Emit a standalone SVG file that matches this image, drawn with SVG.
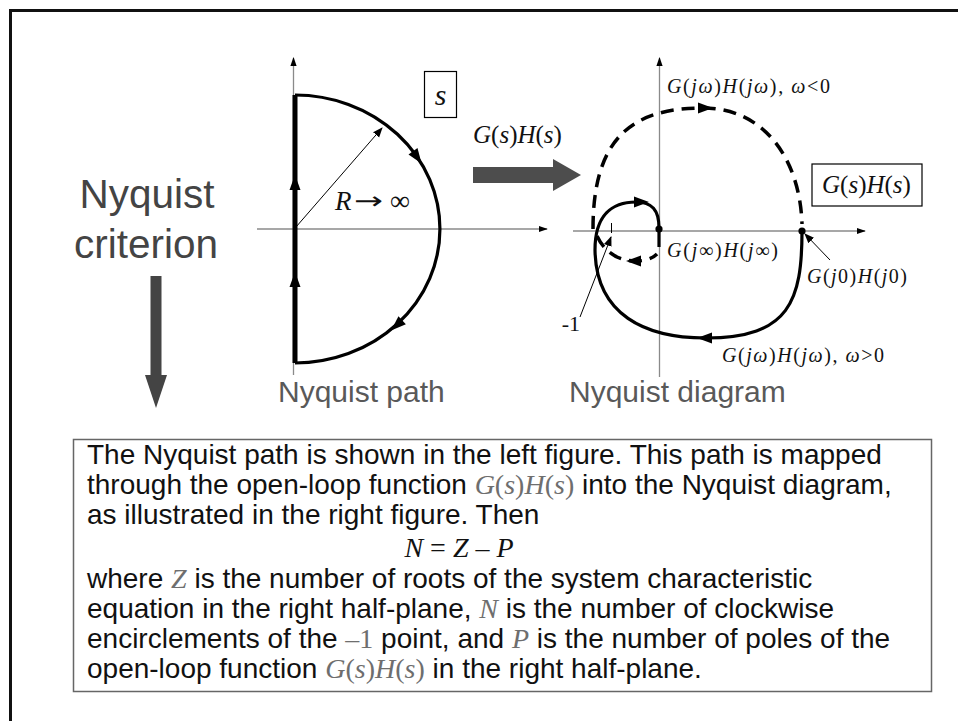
<svg xmlns="http://www.w3.org/2000/svg" width="958" height="721" viewBox="0 0 958 721">
<style>
.sans{font-family:"Liberation Sans",Arial,sans-serif}
.ser{font-family:"Liberation Serif","Times New Roman",serif}
.i{font-style:italic}
.ax{stroke:#8a8a8a;stroke-width:1.3;fill:none}
.thk{stroke:#000;stroke-width:3.2;fill:none}
.dsh{stroke:#000;stroke-width:3.5;fill:none;stroke-dasharray:13 8}
.thin{stroke:#000;stroke-width:1;fill:none}
.ah{fill:#000}
.m{fill:#6e6e6e}
.body{font-size:28px;fill:#111}
.lbl{font-size:20px;fill:#111}
</style>
<defs>
<marker id="axa" viewBox="0 0 10 10" refX="9" refY="5" markerWidth="9" markerHeight="9" markerUnits="userSpaceOnUse" orient="auto"><path d="M0,1.5 L10,5 L0,8.5 Z" fill="#000"/></marker>
<marker id="pa" viewBox="0 0 10 10" refX="9" refY="5" markerWidth="10" markerHeight="10" markerUnits="userSpaceOnUse" orient="auto"><path d="M0,1 L10,5 L0,9 Z" fill="#000"/></marker>
<polygon id="hd" points="8,0 -7,-5.5 -7,5.5"/>
</defs>
<rect x="10.5" y="10.5" width="970" height="730" fill="#fff" stroke="#111" stroke-width="3"/>

<g id="criterion">
<text class="sans" x="147" y="208" font-size="40.5" fill="#444" text-anchor="middle">Nyquist</text>
<text class="sans" x="146" y="258" font-size="40.5" fill="#444" text-anchor="middle">criterion</text>
<polygon points="150.5,276 161.5,276 161.5,375 167,375 156,408 145,375 150.5,375" fill="#444"/>
</g>

<g id="nyquist-path">
<line class="ax" x1="293.5" y1="375" x2="293.5" y2="58" marker-end="url(#axa)"/>
<line class="ax" x1="257" y1="229" x2="547" y2="229" marker-end="url(#axa)"/>
<line x1="295" y1="95" x2="295" y2="363" stroke="#000" stroke-width="5"/>
<path class="thk" d="M295,95 A145,134 0 0 1 295,363"/>
<use href="#hd" class="ah" transform="translate(295,183) rotate(-90)"/>
<use href="#hd" class="ah" transform="translate(295,280) rotate(-90)"/>
<use href="#hd" class="ah" transform="translate(417,157) rotate(55)"/>
<use href="#hd" class="ah" transform="translate(397,325) rotate(137.6)"/>
<line class="thin" x1="296" y1="227" x2="382" y2="128" marker-end="url(#pa)"/>
<text class="ser i" x="335" y="210" font-size="27" fill="#111">R</text>
<text x="354" y="209" font-size="24" fill="#111" font-family="'DejaVu Sans',sans-serif" textLength="29" lengthAdjust="spacingAndGlyphs">→</text>
<text class="ser" x="390" y="210" font-size="28" fill="#111">∞</text>
<rect x="424.5" y="71.5" width="32" height="46" fill="none" stroke="#000" stroke-width="1.2"/>
<text class="ser i" x="440.5" y="105" font-size="30" fill="#111" text-anchor="middle">s</text>
<text class="sans" x="278" y="402" font-size="30" fill="#595959">Nyquist path</text>
</g>

<g id="mapping">
<text class="ser" x="473" y="143" font-size="25" fill="#111"><tspan class="i">G</tspan>(<tspan class="i">s</tspan>)<tspan class="i">H</tspan>(<tspan class="i">s</tspan>)</text>
<polygon points="473,167 553,167 553,159 581,175 553,191 553,183 473,183" fill="#4d4d4d"/>
</g>

<g id="nyquist-diagram">
<line class="ax" x1="659.5" y1="377" x2="659.5" y2="58" marker-end="url(#axa)"/>
<line class="ax" x1="573" y1="231" x2="865" y2="231" marker-end="url(#axa)"/>
<path class="dsh" d="M593,229 C593,140 630,108 703,108 C765,108 800,160 802,224"/>
<path class="thk" d="M802,231 C802,300 790,338 706,338 C645,338 596,315 595,250 C595,215 612,202 636,202 C652,202 659,210 659,228 L659,247"/>
<path class="dsh" d="M597,236 C605,253 619,261 636,261 C646,261 653,258 657,254" stroke-dasharray="11 7"/>
<use href="#hd" class="ah" transform="translate(705,108)"/>
<use href="#hd" class="ah" transform="translate(705,338) rotate(180)"/>
<use href="#hd" class="ah" transform="translate(641,202)"/>
<use href="#hd" class="ah" transform="translate(634,261) rotate(180)"/>
<circle cx="659" cy="229" r="3.6" fill="#000"/>
<circle cx="802" cy="231" r="3.6" fill="#000"/>
<line class="thin" x1="611.5" y1="223" x2="611.5" y2="233"/>
<line class="thin" x1="580" y1="317" x2="611" y2="237" marker-end="url(#pa)"/>
<text class="ser" x="580" y="331" font-size="22" fill="#111" text-anchor="end">-1</text>
<line class="thin" x1="830" y1="260" x2="805" y2="234" marker-end="url(#pa)"/>
<text class="ser lbl" x="667" y="93" textLength="163" lengthAdjust="spacing"><tspan class="i">G</tspan>(<tspan class="i">jω</tspan>)<tspan class="i">H</tspan>(<tspan class="i">jω</tspan>), <tspan class="i">ω</tspan>&lt;0</text>
<text class="ser lbl" x="667" y="257" textLength="111" lengthAdjust="spacing"><tspan class="i">G</tspan>(<tspan class="i">j</tspan>∞)<tspan class="i">H</tspan>(<tspan class="i">j</tspan>∞)</text>
<text class="ser lbl" x="807" y="283" textLength="100" lengthAdjust="spacing"><tspan class="i">G</tspan>(<tspan class="i">j</tspan>0)<tspan class="i">H</tspan>(<tspan class="i">j</tspan>0)</text>
<text class="ser lbl" x="722" y="362" textLength="162" lengthAdjust="spacing"><tspan class="i">G</tspan>(<tspan class="i">jω</tspan>)<tspan class="i">H</tspan>(<tspan class="i">jω</tspan>), <tspan class="i">ω</tspan>&gt;0</text>
<rect x="812" y="164" width="110" height="42" fill="none" stroke="#000" stroke-width="1.2"/>
<text class="ser" x="822" y="193" font-size="25" fill="#111"><tspan class="i">G</tspan>(<tspan class="i">s</tspan>)<tspan class="i">H</tspan>(<tspan class="i">s</tspan>)</text>
<text class="sans" x="569" y="402" font-size="30" fill="#595959">Nyquist diagram</text>
</g>

<g id="explanation">
<rect x="73.5" y="439.5" width="858" height="252" fill="#fff" stroke="#666" stroke-width="1.5"/>
<text class="sans body" x="87" y="464">The Nyquist path is shown in the left figure. This path is mapped</text>
<text class="sans body" x="87" y="494">through the open-loop function <tspan class="ser m"><tspan class="i">G</tspan>(<tspan class="i">s</tspan>)<tspan class="i">H</tspan>(<tspan class="i">s</tspan>)</tspan> into the Nyquist diagram,</text>
<text class="sans body" x="87" y="524">as illustrated in the right figure. Then</text>
<text class="ser body m" x="459" y="557" text-anchor="middle"><tspan class="i">N</tspan> = <tspan class="i">Z</tspan> – <tspan class="i">P</tspan></text>
<text class="sans body" x="87" y="588">where <tspan class="ser m i">Z</tspan> is the number of roots of the system characteristic</text>
<text class="sans body" x="87" y="618">equation in the right half-plane, <tspan class="ser m i">N</tspan> is the number of clockwise</text>
<text class="sans body" x="87" y="648">encirclements of the <tspan class="ser m">–1</tspan> point, and <tspan class="ser m i">P</tspan> is the number of poles of the</text>
<text class="sans body" x="87" y="678">open-loop function <tspan class="ser m"><tspan class="i">G</tspan>(<tspan class="i">s</tspan>)<tspan class="i">H</tspan>(<tspan class="i">s</tspan>)</tspan> in the right half-plane.</text>
</g>
</svg>
